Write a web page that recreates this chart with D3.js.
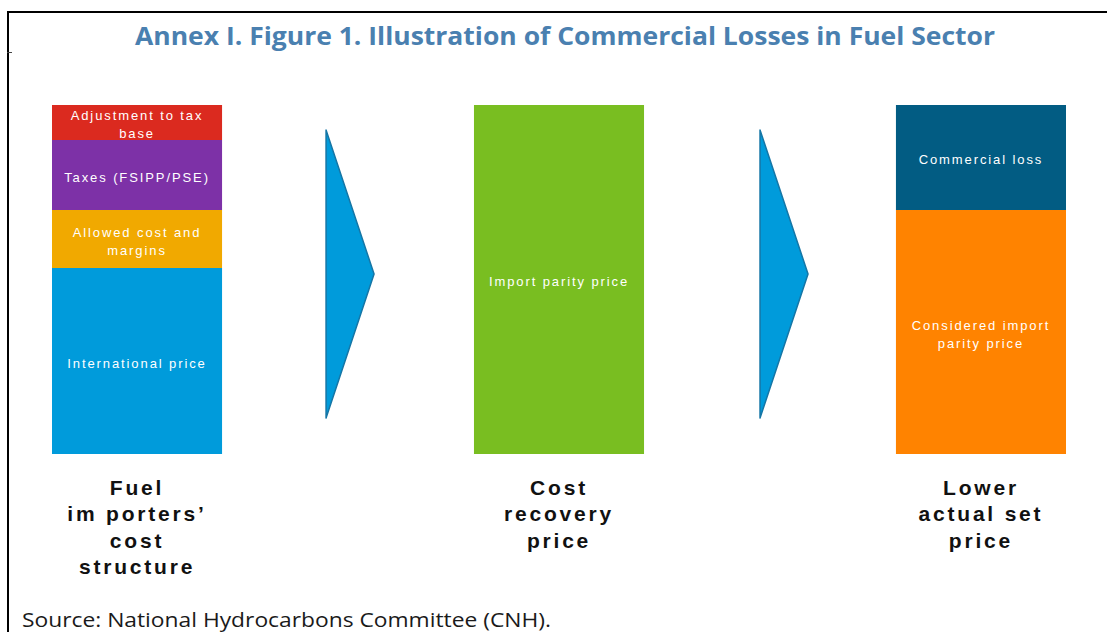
<html>
<script src="https://d3js.org/d3.v7.min.js"></script>
<head>
<style>
  body { margin: 0; background: #fff; }
  svg { display: block; }
</style>
</head>
<body>
<svg width="1107" height="632"></svg>
<script>
// columns (left to right) and their caption lines
var columns = ["cost", "recovery", "set"];
var columnCaptions = [
  ["Fuel", "im porters\u2019", "cost", "structure"],
  ["Cost", "recovery", "price"],
  ["Lower", "actual set", "price"]
];

// stacked pieces of each column, bottom to top
var costLabels = [["International price"], ["Allowed cost and", "margins"], ["Taxes (FSIPP/PSE)"], ["Adjustment to tax", "base"]];
var costValues = [186, 58, 70, 35];
var costColors = ["#009bdb", "#f1a900", "#7d31a7", "#db2a1f"];

var recoveryLabels = [["Import parity price"]];
var recoveryValues = [349];
var recoveryColors = ["#79be21"];

var setLabels = [["Considered import", "parity price"], ["Commercial loss"]];
var setValues = [244, 105];
var setColors = ["#ff8300", "#025c83"];

var title = "Annex I. Figure 1. Illustration of Commercial Losses in Fuel Sector";
var source = "Source: National Hydrocarbons Committee (CNH).";

var svg = d3.select("svg");

// frame lines
svg.append("line").attr("x1", 8).attr("x2", 1107).attr("y1", 12).attr("y2", 12)
  .attr("stroke", "#000").attr("stroke-width", 2);
svg.append("line").attr("x1", 8).attr("x2", 8).attr("y1", 11).attr("y2", 632)
  .attr("stroke", "#000").attr("stroke-width", 2);
svg.append("line").attr("x1", 7).attr("x2", 12).attr("y1", 52.5).attr("y2", 52.5)
  .attr("stroke", "#444").attr("stroke-width", 1);

// title
svg.append("text")
  .attr("x", 565).attr("y", 45)
  .attr("text-anchor", "middle")
  .style("font-family", "'Open Sans', sans-serif")
  .style("font-weight", 700)
  .style("font-size", "25px")
  .attr("fill", "#4a80b0")
  .attr("textLength", 860)
  .attr("lengthAdjust", "spacingAndGlyphs")
  .text(title);

//scales
var x = d3.scaleBand().domain(columns).range([52, 1066]).paddingInner(0.597).paddingOuter(0);
var total = d3.sum(costValues);
var y = d3.scaleLinear().domain([0, total]).range([454, 105]);

var stacks = {
  cost: {labels: costLabels, values: costValues, colors: costColors},
  recovery: {labels: recoveryLabels, values: recoveryValues, colors: recoveryColors},
  set: {labels: setLabels, values: setValues, colors: setColors}
};

columns.forEach(function(c, ci) {
  var s = stacks[c];
  var tops = d3.cumsum(s.values);
  var g = svg.append("g");
  s.values.forEach(function(v, i) {
    var y0 = y(tops[i] - v), y1 = y(tops[i]);
    g.append("rect")
      .attr("x", x(c)).attr("width", x.bandwidth())
      .attr("y", y1).attr("height", y0 - y1)
      .attr("fill", s.colors[i]);
    var lines = s.labels[i];
    var mid = (y0 + y1) / 2 + 2;
    lines.forEach(function(t, li) {
      g.append("text")
        .attr("x", x(c) + x.bandwidth() / 2)
        .attr("y", mid + (li - (lines.length - 1) / 2) * 18 + 4.5)
        .attr("text-anchor", "middle")
        .style("font-family", "'Liberation Sans', Arial, sans-serif")
        .style("font-size", "13px")
        .style("letter-spacing", "1.9px")
        .attr("fill", "#fff")
        .text(t);
    });
  });

  // caption under the column
  columnCaptions[ci].forEach(function(t, li) {
    svg.append("text")
      .attr("x", x(c) + x.bandwidth() / 2)
      .attr("y", 495 + li * 26.3)
      .attr("text-anchor", "middle")
      .style("font-family", "'Liberation Sans', Arial, sans-serif")
      .style("font-weight", 700)
      .style("font-size", "21px")
      .style("letter-spacing", "2.8px")
      .attr("fill", "#111")
      .text(t);
  });
});

// arrows between columns (offset from the end of the left column)
var arrowOffsets = [104, 116];
for (var i = 0; i < columns.length - 1; i++) {
  var gapStart = x(columns[i]) + x.bandwidth();
  var ax = gapStart + arrowOffsets[i];
  var arrowTop = y(total) + 25, arrowBottom = y(0) - 36;
  svg.append("path")
    .attr("d", d3.line()([[ax, arrowTop], [ax + 48, (arrowTop + arrowBottom) / 2], [ax, arrowBottom]]) + "Z")
    .attr("fill", "#009bdb")
    .attr("stroke", "#1576a6")
    .attr("stroke-width", 1.5)
    .attr("stroke-linejoin", "round");
}

// source note
svg.append("text")
  .attr("x", 22).attr("y", 627)
  .style("font-family", "'Open Sans', sans-serif")
  .style("font-size", "19.5px")
  .attr("fill", "#1a1a1a")
  .attr("textLength", 529)
  .attr("lengthAdjust", "spacingAndGlyphs")
  .text(source);
</script>
</body>
</html>
